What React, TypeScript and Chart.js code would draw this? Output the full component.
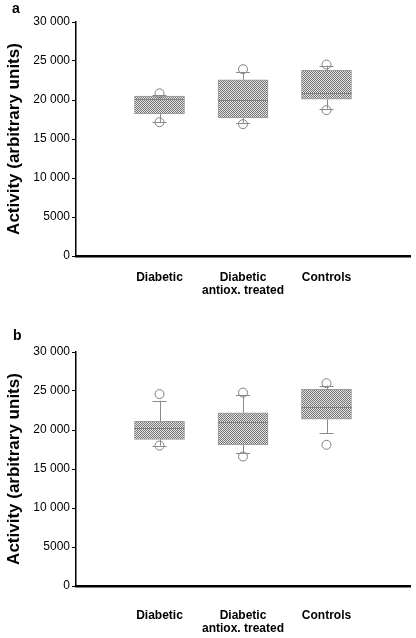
import React, { useEffect, useRef } from "react";
import { Chart, registerables } from "chart.js";

Chart.register(...registerables);

const categories: (string | string[])[] = ["Diabetic", ["Diabetic", "antiox. treated"], "Controls"];
const yTicks = [0, 5000, 10000, 15000, 20000, 25000, 30000];

// Panel a
const aQ1 = [18200, 17700, 20100];
const aMedian = [20100, 20000, 20900];
const aQ3 = [20500, 22600, 23800];
const aLow = [17150, 17100, 18900];
const aHigh = [20600, 23600, 24400];
const aOutLow = [17150, 16900, 18700];
const aOutHigh = [20850, 23950, 24550];

// Panel b
const bQ1 = [18800, 18100, 21400];
const bMedian = [20300, 21000, 22900];
const bQ3 = [21100, 22200, 25200];
const bLow = [18000, 17000, 19600];
const bHigh = [23750, 24500, 25700];
const bOutLow = [18000, 16600, 18100];
const bOutHigh = [24600, 24800, 26000];

const FONT = "'Liberation Sans', Arial, Helvetica, sans-serif";

function makePattern(): CanvasPattern | string {
  const c = document.createElement("canvas");
  c.width = 2;
  c.height = 2;
  const g = c.getContext("2d");
  if (!g) return "#aaa";
  g.fillStyle = "#e4e4e4";
  g.fillRect(0, 0, 2, 2);
  g.fillStyle = "#747474";
  g.fillRect(0, 0, 1, 1);
  g.fillRect(1, 1, 1, 1);
  const p = g.createPattern(c, "repeat");
  return p || "#aaa";
}

function fmt(v: number): string {
  if (v >= 10000) {
    const th = Math.floor(v / 1000);
    const rest = String(v % 1000).padStart(3, "0");
    return th + " " + rest;
  }
  return String(v);
}

type PanelProps = {
  q1: number[];
  median: number[];
  q3: number[];
  low: number[];
  high: number[];
  outLow: number[];
  outHigh: number[];
  labelPad: number;
};

const whiskerPlugin = {
  id: "whiskers",
  afterDatasetsDraw(chart: any, _args: any, opts: any) {
    const { ctx, scales } = chart;
    const xs = scales.x;
    const ys = scales.y;
    ctx.save();
    const n = opts.median.length;
    for (let i = 0; i < n; i++) {
      const cx = xs.getPixelForValue(i + 1);
      const yq1 = ys.getPixelForValue(opts.q1[i]);
      const yq3 = ys.getPixelForValue(opts.q3[i]);
      const yMed = ys.getPixelForValue(opts.median[i]);
      const yLo = ys.getPixelForValue(opts.low[i]);
      const yHi = ys.getPixelForValue(opts.high[i]);
      // median
      ctx.strokeStyle = "#808080";
      ctx.lineWidth = 1;
      ctx.beginPath();
      ctx.moveTo(cx - 25, Math.round(yMed) + 0.5);
      ctx.lineTo(cx + 25, Math.round(yMed) + 0.5);
      ctx.stroke();
      // whiskers
      ctx.strokeStyle = "#8a8a8a";
      ctx.beginPath();
      ctx.moveTo(Math.round(cx) + 0.5, yq3);
      ctx.lineTo(Math.round(cx) + 0.5, yHi);
      ctx.moveTo(Math.round(cx) + 0.5, yq1);
      ctx.lineTo(Math.round(cx) + 0.5, yLo);
      ctx.moveTo(cx - 7, Math.round(yHi) + 0.5);
      ctx.lineTo(cx + 7, Math.round(yHi) + 0.5);
      ctx.moveTo(cx - 7, Math.round(yLo) + 0.5);
      ctx.lineTo(cx + 7, Math.round(yLo) + 0.5);
      ctx.stroke();
    }
    ctx.restore();
  },
};

function Panel(props: PanelProps) {
  const ref = useRef<HTMLCanvasElement | null>(null);
  useEffect(() => {
    if (!ref.current) return;
    const pattern = makePattern();
    const boxData = props.q1.map((v, i) => ({ x: i + 1, y: [v, props.q3[i]] }));
    const outData = [
      ...props.outLow.map((v, i) => ({ x: i + 1, y: v })),
      ...props.outHigh.map((v, i) => ({ x: i + 1, y: v })),
    ];
    const chart = new Chart(ref.current, {
      type: "bar",
      data: {
        datasets: [
          {
            type: "bar",
            data: boxData as any,
            backgroundColor: pattern as any,
            borderColor: "#999999",
            borderWidth: 1,
            borderSkipped: false,
            barThickness: 50,
            order: 2,
          } as any,
          {
            type: "scatter",
            data: outData as any,
            pointStyle: "circle",
            pointRadius: 4.5,
            pointBorderColor: "#808080",
            pointBackgroundColor: "rgba(255,255,255,0)",
            pointBorderWidth: 1,
            order: 1,
          } as any,
        ],
      },
      options: {
        animation: false,
        responsive: false,
        maintainAspectRatio: false,
        layout: { padding: { top: 22, right: 6, left: 0, bottom: 0 } },
        plugins: {
          legend: { display: false },
          tooltip: { enabled: false },
          whiskers: {
            q1: props.q1,
            q3: props.q3,
            median: props.median,
            low: props.low,
            high: props.high,
          },
        } as any,
        scales: {
          x: {
            type: "linear",
            offset: false,
            min: 0,
            max: 4,
            grid: { display: false, drawTicks: false, offset: false },
            border: { display: true, color: "#000", width: 2.5 },
            afterBuildTicks: (axis: any) => {
              axis.ticks = categories.map((_c, i) => ({ value: i + 1 }));
            },
            afterFit: (axis: any) => {
              axis.height = 52;
            },
            ticks: {
              autoSkip: false,
              maxRotation: 0,
              padding: props.labelPad,
              color: "#000",
              font: { family: FONT, size: 12, weight: "bold", lineHeight: 1.08 },
              callback: (v: any) => categories[Number(v) - 1] as any,
            },
          },
          y: {
            type: "linear",
            min: 0,
            max: 30000,
            afterBuildTicks: (axis: any) => {
              axis.ticks = yTicks.map((v) => ({ value: v }));
            },
            afterFit: (axis: any) => {
              axis.width = 76;
            },
            grid: {
              display: true,
              drawOnChartArea: false,
              drawTicks: true,
              tickLength: 4,
              color: "#000",
              lineWidth: 1,
            },
            border: { display: true, color: "#000", width: 1.5 },
            ticks: {
              padding: 2,
              color: "#000",
              font: { family: FONT, size: 12 },
              callback: (v: any) => fmt(Number(v)),
            },
            title: {
              display: true,
              text: "Activity (arbitrary units)",
              color: "#000",
              font: { family: FONT, size: 17, weight: "bold" },
              padding: { top: 4, bottom: 0 },
            },
          },
        },
      } as any,
      plugins: [whiskerPlugin as any],
    });
    return () => chart.destroy();
  }, []);
  return <canvas ref={ref} width={416} height={308} style={{ display: "block", width: 416, height: 308 }} />;
}

export default function App() {
  const letterStyle: React.CSSProperties = {
    position: "absolute",
    fontFamily: FONT,
    fontWeight: "bold",
    fontSize: 14,
    lineHeight: "14px",
    color: "#000",
  };
  return (
    <div style={{ position: "absolute", left: 0, top: 0, width: 416, height: 638, background: "#fff" }}>
      <div style={{ position: "absolute", left: 0, top: 0 }}>
        <Panel q1={aQ1} median={aMedian} q3={aQ3} low={aLow} high={aHigh} outLow={aOutLow} outHigh={aOutHigh} labelPad={15} />
      </div>
      <div style={{ position: "absolute", left: 0, top: 330 }}>
        <Panel q1={bQ1} median={bMedian} q3={bQ3} low={bLow} high={bHigh} outLow={bOutLow} outHigh={bOutHigh} labelPad={23} />
      </div>
      <div style={{ ...letterStyle, left: 12, top: 1 }}>a</div>
      <div style={{ ...letterStyle, left: 13, top: 328 }}>b</div>
    </div>
  );
}
